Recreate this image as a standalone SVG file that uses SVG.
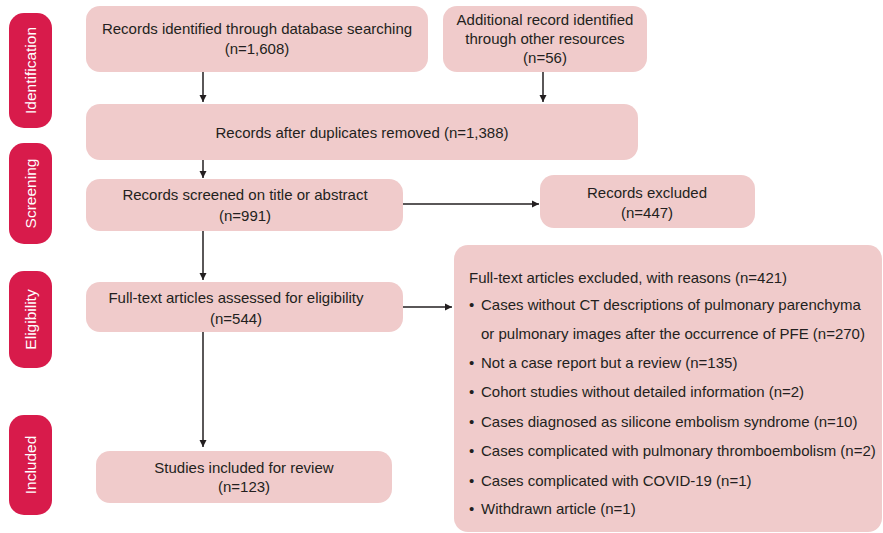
<svg xmlns="http://www.w3.org/2000/svg" width="883" height="533" viewBox="0 0 883 533">
<style>
.box{fill:#F0CBCB}
.side{fill:#D81B4B}
.t{font-family:"Liberation Sans",Arial,sans-serif;font-size:15px;fill:#231F20}
.c{text-anchor:middle}
.s{font-family:"Liberation Sans",Arial,sans-serif;font-size:15.5px;fill:#FFFFFF;text-anchor:middle}
.ln{stroke:#231F20;stroke-width:1.5;fill:none}
</style>
<defs>
<marker id="ah" markerWidth="8" markerHeight="8" refX="7" refY="4" orient="auto" markerUnits="userSpaceOnUse">
<path d="M0,0.5 L7,4 L0,7.5 Z" fill="#231F20"/>
</marker>
</defs>
<g id="side-identification"><rect class="side" x="9" y="13" width="43" height="115" rx="15"/><text class="s" transform="translate(36,70.5) rotate(-90)">Identification</text></g>
<g id="side-screening"><rect class="side" x="9" y="143" width="43" height="101" rx="15"/><text class="s" transform="translate(36,193.5) rotate(-90)">Screening</text></g>
<g id="side-eligibility"><rect class="side" x="9" y="271" width="43" height="97" rx="15"/><text class="s" transform="translate(36,319.5) rotate(-90)">Eligibility</text></g>
<g id="side-included"><rect class="side" x="9" y="415" width="43" height="100" rx="15"/><text class="s" transform="translate(36,465) rotate(-90)">Included</text></g>

<g id="n-db"><rect class="box" x="86" y="6" width="342" height="66" rx="14"/><text class="t c" x="257" y="34">Records identified through database searching</text><text class="t c" x="257" y="54">(n=1,608)</text></g>
<g id="n-other"><rect class="box" x="443" y="6" width="204" height="66" rx="14"/><text class="t c" x="545" y="25">Additional record identified</text><text class="t c" x="545" y="44">through other resources</text><text class="t c" x="545" y="63">(n=56)</text></g>
<g id="n-dup"><rect class="box" x="86" y="104" width="552" height="56" rx="14"/><text class="t c" x="362" y="138">Records after duplicates removed (n=1,388)</text></g>
<g id="n-screened"><rect class="box" x="86" y="179" width="317" height="52" rx="14"/><text class="t c" x="245" y="200">Records screened on title or abstract</text><text class="t c" x="245" y="221">(n=991)</text></g>
<g id="n-excluded"><rect class="box" x="540" y="175" width="215" height="53" rx="14"/><text class="t c" x="647" y="198">Records excluded</text><text class="t c" x="647" y="218">(n=447)</text></g>
<g id="n-fulltext"><rect class="box" x="86" y="282" width="317" height="50" rx="14"/><text class="t c" x="236" y="303">Full-text articles assessed for eligibility</text><text class="t c" x="236" y="324">(n=544)</text></g>
<g id="n-reasons"><rect class="box" x="454" y="245" width="428" height="287" rx="14"/>
<text class="t" x="469" y="283">Full-text articles excluded, with reasons (n=421)</text>
<text class="t" x="469" y="310">•</text><text class="t" x="481" y="310">Cases without CT descriptions of pulmonary parenchyma</text>
<text class="t" x="481" y="339">or pulmonary images after the occurrence of PFE (n=270)</text>
<text class="t" x="469" y="368">•</text><text class="t" x="481" y="368">Not a case report but a review (n=135)</text>
<text class="t" x="469" y="397">•</text><text class="t" x="481" y="397">Cohort studies without detailed information (n=2)</text>
<text class="t" x="469" y="427">•</text><text class="t" x="481" y="427">Cases diagnosed as silicone embolism syndrome (n=10)</text>
<text class="t" x="469" y="456">•</text><text class="t" x="481" y="456">Cases complicated with pulmonary thromboembolism (n=2)</text>
<text class="t" x="469" y="486">•</text><text class="t" x="481" y="486">Cases complicated with COVID-19 (n=1)</text>
<text class="t" x="469" y="514">•</text><text class="t" x="481" y="514">Withdrawn article (n=1)</text>
</g>
<g id="n-included"><rect class="box" x="96" y="451" width="296" height="52" rx="14"/><text class="t c" x="244" y="473">Studies included for review</text><text class="t c" x="244" y="492">(n=123)</text></g>

<g id="connectors">
<line class="ln" x1="203" y1="72" x2="203" y2="102" marker-end="url(#ah)"/>
<line class="ln" x1="543" y1="72" x2="543" y2="102" marker-end="url(#ah)"/>
<line class="ln" x1="203" y1="160" x2="203" y2="178" marker-end="url(#ah)"/>
<line class="ln" x1="403" y1="204" x2="539" y2="204" marker-end="url(#ah)"/>
<line class="ln" x1="203" y1="231" x2="203" y2="280" marker-end="url(#ah)"/>
<line class="ln" x1="403" y1="307" x2="452" y2="307" marker-end="url(#ah)"/>
<line class="ln" x1="203" y1="332" x2="203" y2="447" marker-end="url(#ah)"/>
</g>
</svg>
